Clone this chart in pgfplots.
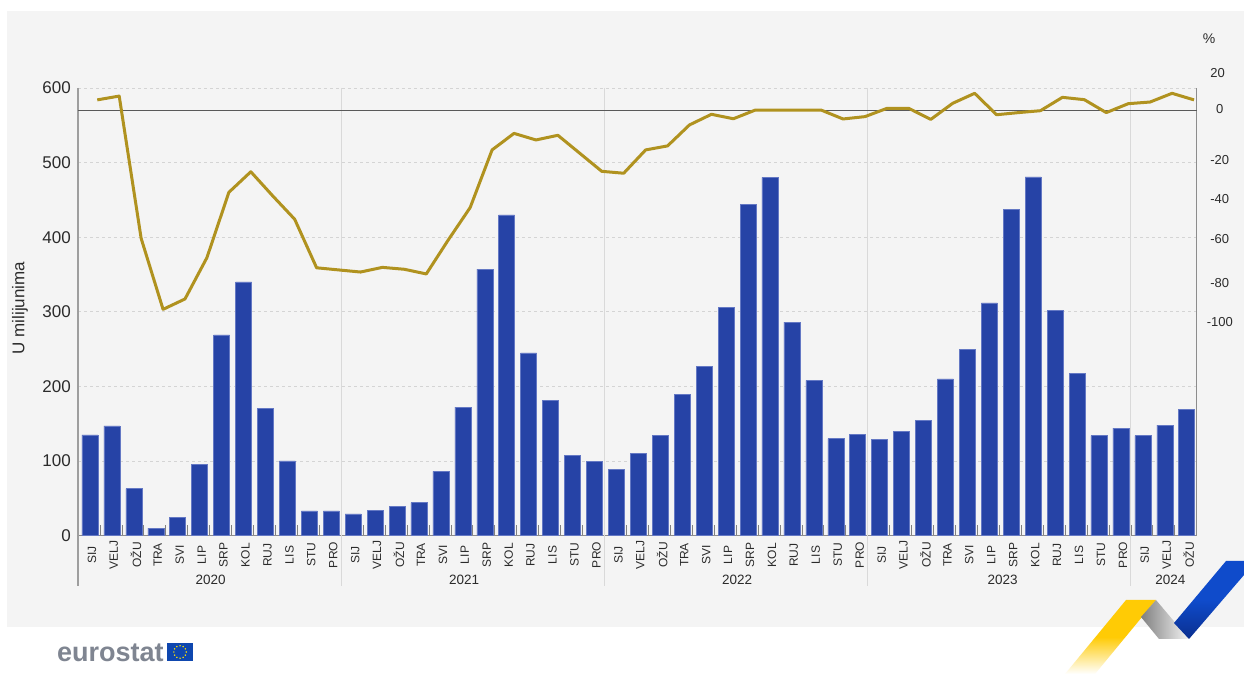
\documentclass[border=0pt]{standalone}
\usepackage{pgfplots}
\usepackage{pgfplotstable}
\usepackage{fontspec}
\usetikzlibrary{calc}
\setmainfont{Liberation Sans}
\pgfplotsset{compat=1.18}
\definecolor{panel}{HTML}{F4F4F4}
\definecolor{barblue}{HTML}{2643A6}
\definecolor{baredge}{HTML}{6478C4}
\definecolor{growth}{HTML}{B0921F}
\definecolor{txt}{HTML}{2B2B2B}
\definecolor{euflag}{HTML}{0F47AF}
\definecolor{eugrey}{HTML}{7F8591}
\definecolor{ribbonyellow}{HTML}{FFCB05}
\definecolor{ribbonblue}{HTML}{0F4BCB}
\definecolor{ribbonnavy}{HTML}{0A2F8F}

% Monthly values: month index, millions, annual change in per cent
\pgfplotstableread{
i  m   p
0  135 5.0
1  147 6.8
2  63  -60.3
3  10  -93.8
4  24  -88.9
5  95  -69.4
6  269 -38.6
7  340 -28.9
8  170 -40.3
9  100 -51.3
10 33  -74.2
11 33  -75.2
12 29  -76.2
13 34  -74.0
14 39  -74.9
15 44  -77.1
16 86  -61.1
17 172 -45.8
18 357 -18.6
19 430 -10.8
20 245 -13.9
21 181 -11.7
22 107 -20.2
23 99  -28.7
24 89  -29.6
25 110 -18.6
26 134 -16.7
27 189 -6.8
28 227 -1.8
29 306 -3.9
30 444 0.2
31 480 0.2
32 286 0.2
33 208 0.2
34 130 -4.0
35 136 -2.9
36 129 1.0
37 140 1.0
38 154 -4.2
39 210 3.4
40 250 8.1
41 312 -2.0
42 437 -1.0
43 481 -0.1
44 302 6.2
45 217 5.1
46 134 -1.0
47 144 3.2
48 134 4.0
49 148 8.1
50 169 5.0
}\monthly

\begin{document}
\begin{tikzpicture}[x=1pt,y=1pt]
\path[use as bounding box] (0,0) rectangle (1244,674);
\fill[white] (0,0) rectangle (1244,674);
\fill[panel] (7,47) rectangle (1244,663);

% Values in millions, left scale
\begin{axis}[
  at={(78pt,138.5pt)}, anchor=south west,
  scale only axis, width=1118.7pt, height=447.5pt,
  xmin=-0.5, xmax=50.5, ymin=0, ymax=600,
  clip=false,
  axis x line=bottom, axis y line=left,
  axis line style={-, draw=black!45, line width=0.7pt},
  ytick={0,100,...,500},
  ymajorgrids,
  major grid style={draw=black!17, dash pattern=on 3pt off 3pt, line width=0.5pt},
  ytick style={draw=none},
  yticklabel style={font=\fontsize{17}{17}\selectfont, text=txt, inner sep=0pt, xshift=-7pt},
  extra y ticks={600},
  extra y tick style={grid style={draw=black!9, dash pattern=on 3pt off 3pt, line width=0.5pt}},
  /pgf/number format/assume math mode=true,
  xtick={0,...,50},
  xticklabels={SIJ,VELJ,OŽU,TRA,SVI,LIP,SRP,KOL,RUJ,LIS,STU,PRO,
               SIJ,VELJ,OŽU,TRA,SVI,LIP,SRP,KOL,RUJ,LIS,STU,PRO,
               SIJ,VELJ,OŽU,TRA,SVI,LIP,SRP,KOL,RUJ,LIS,STU,PRO,
               SIJ,VELJ,OŽU,TRA,SVI,LIP,SRP,KOL,RUJ,LIS,STU,PRO,
               SIJ,VELJ,OŽU},
  major tick length=0pt,
  xticklabel style={font=\fontsize{12}{12}\selectfont, text=txt, rotate=90, anchor=center, inner sep=0pt, xshift=-19.5pt, yshift=-3pt},
  minor xtick={-0.5,0.5,...,50.5},
  minor tick length=10pt,
  xtick align=inside,
  minor tick style={draw=black!50, line width=0.7pt},
  ylabel={U milijunima},
  ylabel style={at={(axis description cs:-0.0518,0.508)}, anchor=center, font=\fontsize{17}{17}\selectfont, text=txt},
]
% Year separators
\draw[black!15, line width=1pt] (axis cs:11.5,600) -- (axis cs:11.5,-67.7);
\draw[black!15, line width=1pt] (axis cs:23.5,600) -- (axis cs:23.5,-67.7);
\draw[black!15, line width=1pt] (axis cs:35.5,600) -- (axis cs:35.5,-67.7);
\draw[black!15, line width=1pt] (axis cs:47.5,600) -- (axis cs:47.5,-67.7);
\draw[black!38, line width=1.2pt] (axis cs:-0.5,600) -- (axis cs:-0.5,-67.7);

\addplot[ybar, bar width=16pt, bar shift=1pt, draw=baredge, line width=0.5pt, fill=barblue]
  table[x=i, y=m] {\monthly};

% Year captions
\foreach \xpos/\yr in {5.55/2020,17.1/2021,29.55/2022,41.65/2023,49.3/2024}{
  \edef\doit{\noexpand\node[font=\noexpand\fontsize{13.5}{13.5}\noexpand\selectfont, text=txt] at (axis cs:\xpos,-59.6) {\yr};}
  \doit
}
\end{axis}

% Annual change in per cent, right scale
\begin{axis}[
  at={(78pt,138.5pt)}, anchor=south west,
  scale only axis, width=1118.7pt, height=447.5pt,
  xmin=-0.5, xmax=50.5, ymin=-200.47, ymax=10.61,
  clip=false,
  axis x line=none,
  axis y line=right,
  axis line style={-, draw=black!45, line width=1.2pt},
  ytick={0.7,-23.3,-41.7,-60.6,-81.4,-99.8},
  yticklabels={0,-20,-40,-60,-80,-100},
  ytick style={draw=none},
  yticklabel style={font=\fontsize{13}{13}\selectfont, text=txt, anchor=center, inner sep=0pt, xshift=21pt},
]
\draw[black!65, line width=0.9pt] (axis cs:-0.5,0) -- (axis cs:50.5,0);
\addplot[draw=growth, line width=3pt, line join=round, xshift=8.3pt]
  table[x=i, y=p] {\monthly};
\end{axis}

% Labels above the right scale
\node[font=\fontsize{13}{13}\selectfont, text=txt] at (1217.5,601) {20};
\node[font=\fontsize{14}{14}\selectfont, text=txt] at (1209,635) {\%};

% Logo
\node[anchor=base west, inner sep=0pt, font=\fontsize{27}{27}\bfseries\selectfont, text=eugrey] at (57,12.5) {eurostat};
\fill[euflag] (167,13) rectangle (193,31);
\foreach \a in {0,30,...,330}{
  \fill[yellow!85!orange] ($(180,22)+(\a:6.2)$) circle (0.8);
}

% Ribbon emblem
\begin{scope}
\clip (1126,74) -- (1156,74) -- (1095,0) -- (1065,0) -- cycle;
\shade[top color=ribbonyellow, bottom color=white, middle color=ribbonyellow] (1060,0) rectangle (1160,74);
\end{scope}
\begin{scope}
\clip (1156,74) -- (1189,35) -- (1159,35) -- (1141,57) -- cycle;
\shade[left color=black!50, right color=black!4] (1141,35) rectangle (1189,74);
\end{scope}
\begin{scope}
\clip (1226,113) -- (1244,113) -- (1244,99) -- (1189,35) -- (1174,51) -- cycle;
\shade[top color=ribbonblue, bottom color=ribbonnavy, middle color=ribbonblue] (1170,35) rectangle (1244,113);
\end{scope}
\end{tikzpicture}
\end{document}
